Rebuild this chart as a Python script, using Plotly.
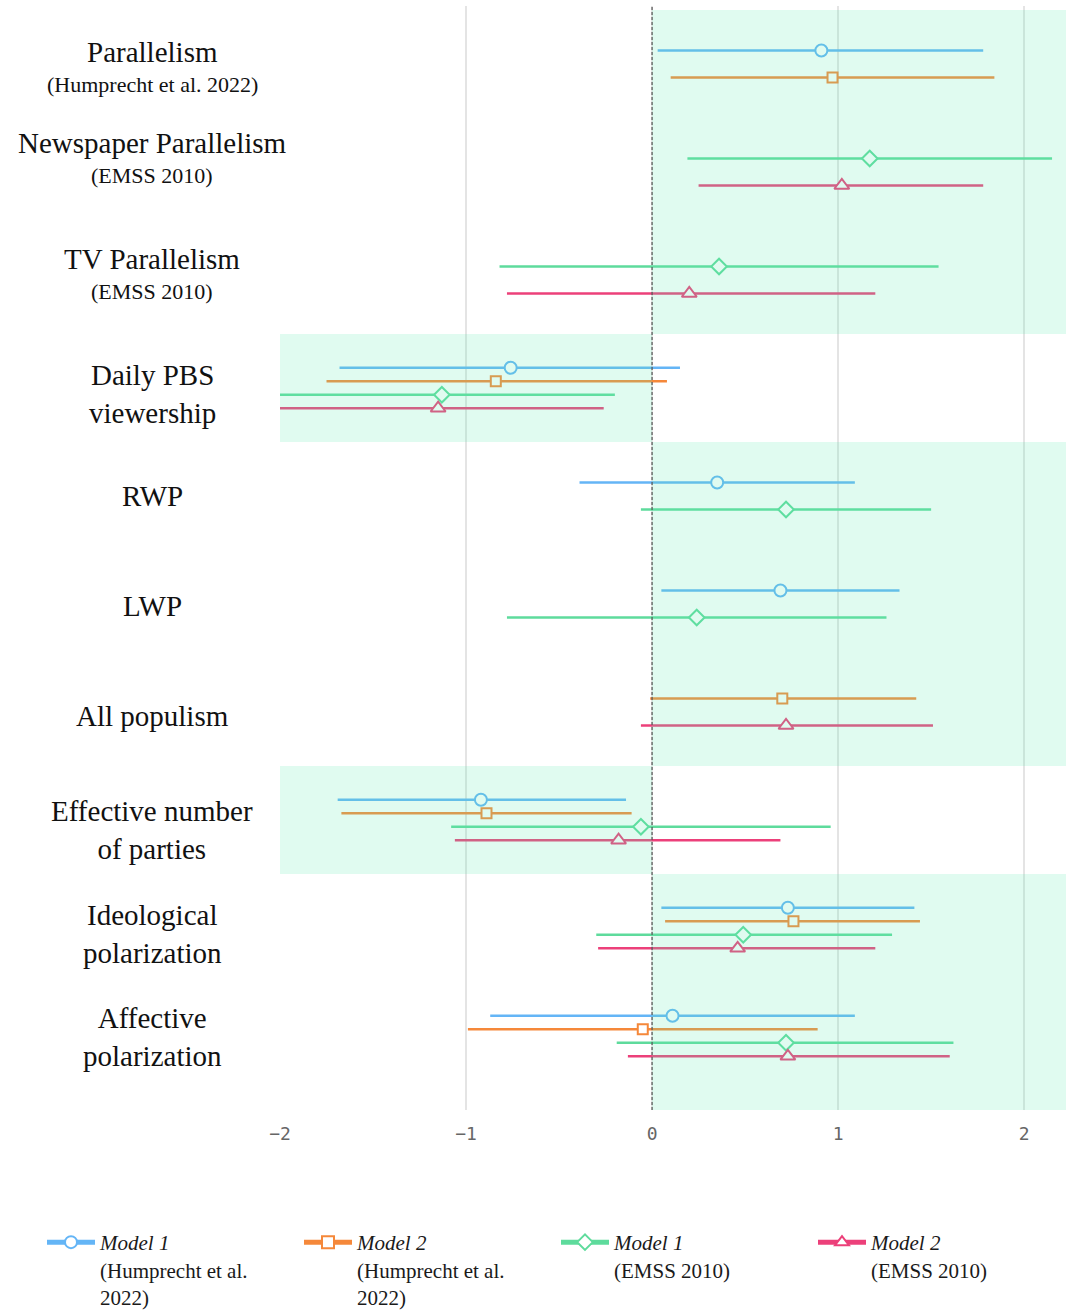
import plotly.graph_objects as go

# ---------------- data ----------------
categories = ["Parallelism", "Newspaper Parallelism", "TV Parallelism",
              "Daily PBS viewership", "RWP", "LWP", "All populism",
              "Effective number of parties", "Ideological polarization",
              "Affective polarization"]
label_main = [["Parallelism"], ["Newspaper Parallelism"], ["TV Parallelism"],
              ["Daily PBS", "viewership"], ["RWP"], ["LWP"], ["All populism"],
              ["Effective number", "of parties"], ["Ideological", "polarization"],
              ["Affective", "polarization"]]
label_sub = ["(Humprecht et al. 2022)", "(EMSS 2010)", "(EMSS 2010)",
             None, None, None, None, None, None, None]
# expected direction of effect (shaded side)
direction = [1, 1, 1, -1, 1, 1, 1, -1, 1, 1]

series_names = ["<i>Model 1</i><br>(Humprecht et al.<br>2022)",
                "<i>Model 2</i><br>(Humprecht et al.<br>2022)",
                "<i>Model 1</i><br>(EMSS 2010)",
                "<i>Model 2</i><br>(EMSS 2010)"]

m1h_est = [0.91, None, None, -0.76, 0.35, 0.69, None, -0.92, 0.73, 0.11]
m1h_lo = [0.03, None, None, -1.68, -0.39, 0.05, None, -1.69, 0.05, -0.87]
m1h_hi = [1.78, None, None, 0.15, 1.09, 1.33, None, -0.14, 1.41, 1.09]

m2h_est = [0.97, None, None, -0.84, None, None, 0.70, -0.89, 0.76, -0.05]
m2h_lo = [0.10, None, None, -1.75, None, None, -0.01, -1.67, 0.07, -0.99]
m2h_hi = [1.84, None, None, 0.08, None, None, 1.42, -0.11, 1.44, 0.89]

m1e_est = [None, 1.17, 0.36, -1.13, 0.72, 0.24, None, -0.06, 0.49, 0.72]
m1e_lo = [None, 0.19, -0.82, -2.06, -0.06, -0.78, None, -1.08, -0.30, -0.19]
m1e_hi = [None, 2.15, 1.54, -0.20, 1.50, 1.26, None, 0.96, 1.29, 1.62]

m2e_est = [None, 1.02, 0.20, -1.15, None, None, 0.72, -0.18, 0.46, 0.73]
m2e_lo = [None, 0.25, -0.78, -2.04, None, None, -0.06, -1.06, -0.29, -0.13]
m2e_hi = [None, 1.78, 1.20, -0.26, None, None, 1.51, 0.69, 1.20, 1.60]

tick_vals = [-2, -1, 0, 1, 2]
tick_text = ["\u22122", "\u22121", "0", "1", "2"]

# ---------------- styling / layout ----------------
colors = ["#64b5f6", "#f5883a", "#5edb9c", "#ec407a"]
symbols = ["circle", "square", "diamond", "triangle-up"]
sizes = [12, 10, 12, 13]
serif = "Liberation Serif"
label_nudge_px = [3, -14, -6, 6, 0, 2, 4, 10, 6, 1]   # vertical label nudges (pixels)

ests = [m1h_est, m2h_est, m1e_est, m2e_est]
los = [m1h_lo, m2h_lo, m1e_lo, m2e_lo]
his = [m1h_hi, m2h_hi, m1e_hi, m2e_hi]

x_range = [-2.0, 2.225]
y_range = [9.685, -0.537]
px_per_group = 108.0

n_groups = len(categories)
present = [[s for s in range(4) if ests[s][g] is not None] for g in range(n_groups)]

fig = go.Figure()

for s in range(4):
    xs, ys, ep, em = [], [], [], []
    for g in range(n_groups):
        if ests[s][g] is None:
            continue
        n = len(present[g])
        k = present[g].index(s)
        step = 0.5 / n
        ys.append(g + (k - (n - 1) / 2) * step)
        xs.append(ests[s][g])
        ep.append(his[s][g] - ests[s][g])
        em.append(ests[s][g] - los[s][g])
    fig.add_trace(go.Scatter(
        x=xs, y=ys, mode="markers", showlegend=False, hoverinfo="skip",
        marker=dict(symbol=symbols[s], size=sizes[s], color="white",
                    line=dict(color=colors[s], width=2)),
        error_x=dict(type="data", symmetric=False, array=ep, arrayminus=em,
                     color=colors[s], thickness=2.6, width=0),
    ))
    # legend entry
    fig.add_trace(go.Scatter(
        x=[None], y=[None], mode="lines+markers", name=series_names[s],
        line=dict(color=colors[s], width=2.6),
        marker=dict(symbol=symbols[s], size=sizes[s] + 2, color="white",
                    line=dict(color=colors[s], width=2)),
    ))

# shaded bands (merge contiguous groups of same direction)
shapes = []
runs = []
start = 0
for g in range(1, n_groups + 1):
    if g == n_groups or direction[g] != direction[start]:
        runs.append((start, g - 1, direction[start]))
        start = g
for (a, b, d) in runs:
    y0 = a - 0.5
    y1 = b + 0.5 if b < n_groups - 1 else y_range[0]
    x0, x1 = (0, x_range[1]) if d > 0 else (x_range[0], 0)
    shapes.append(dict(type="rect", xref="x", yref="y", x0=x0, x1=x1, y0=y0, y1=y1,
                       fillcolor="rgb(100,235,180)", opacity=0.2,
                       line=dict(width=0), layer="above"))
# zero reference line
shapes.append(dict(type="line", xref="x", yref="paper", x0=0, x1=0, y0=0, y1=1,
                   line=dict(color="#555555", width=1.2, dash="3px,2px"), layer="above"))

# category labels
annotations = []
plot_left = 280
plot_w = 1066 - plot_left
plot_top = 6
plot_bottom = 1110
plot_h = plot_bottom - plot_top
lab_x = (152 - plot_left) / plot_w
for g in range(n_groups):
    main = "<br>".join(label_main[g])
    yc = g + label_nudge_px[g] / px_per_group
    if label_sub[g] is not None:
        annotations.append(dict(xref="paper", yref="y", x=lab_x, y=yc - 0.14,
                                text=main, showarrow=False, xanchor="center",
                                yanchor="middle",
                                font=dict(family=serif, size=29, color="#111111")))
        annotations.append(dict(xref="paper", yref="y", x=lab_x, y=yc + 0.16,
                                text=label_sub[g], showarrow=False, xanchor="center",
                                yanchor="middle",
                                font=dict(family=serif, size=22, color="#111111")))
    else:
        annotations.append(dict(xref="paper", yref="y", x=lab_x, y=yc,
                                text=main, showarrow=False, xanchor="center",
                                yanchor="middle",
                                font=dict(family=serif, size=29, color="#111111")))

fig.update_layout(
    width=1066, height=1313,
    margin=dict(l=plot_left, r=0, t=plot_top, b=1313 - plot_bottom, autoexpand=False),
    plot_bgcolor="white", paper_bgcolor="white",
    shapes=shapes, annotations=annotations,
    xaxis=dict(range=x_range, tickvals=tick_vals, ticktext=tick_text,
               showgrid=True, gridcolor="#e4e4e4", gridwidth=1.5, zeroline=False,
               showline=False, ticks="outside", ticklen=7, tickcolor="rgba(0,0,0,0)",
               tickfont=dict(family="DejaVu Sans Mono", size=18, color="#666666")),
    yaxis=dict(range=y_range, showgrid=False, zeroline=False, showticklabels=False,
               showline=False),
    legend=dict(orientation="h", x=(42 - plot_left) / plot_w, xanchor="left",
                y=-(1222 - plot_bottom) / plot_h, yanchor="top",
                entrywidth=194, entrywidthmode="pixels", valign="top",
                itemwidth=48,
                font=dict(family=serif, size=21, color="#1a1a1a"),
                itemsizing="constant", tracegroupgap=0),
)

fig.write_html("out.html")
